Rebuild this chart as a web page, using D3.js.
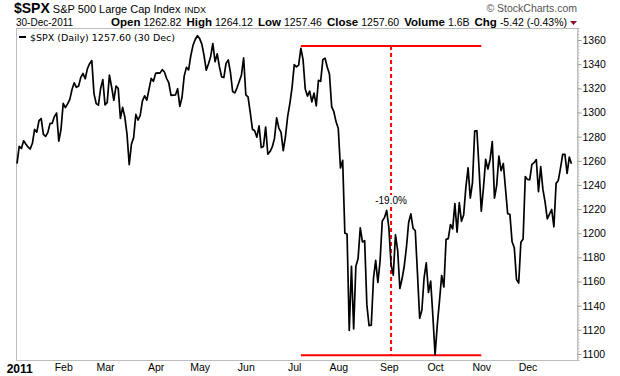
<!DOCTYPE html>
<html>
<head>
<meta charset="utf-8">
<script src="https://cdn.jsdelivr.net/npm/d3@7"></script>
<style>
  body { margin: 0; background: #fff; }
  svg { display: block; font-family: "Liberation Sans", Arial, sans-serif; }
</style>
</head>
<body>
<div id="chart"></div>
<script>
// daily closes, 31-Dec-2010 then every trading day of 2011
var closes = [
  1257.64,
  // Jan
  1271.87, 1270.20, 1276.56, 1273.85, 1271.50, 1269.75, 1274.48, 1285.96, 1283.76, 1293.24,
  1295.02, 1281.92, 1280.26, 1283.35, 1290.84, 1291.18, 1296.63, 1299.54, 1276.34, 1286.12,
  // Feb
  1307.59, 1304.03, 1307.10, 1310.87, 1319.05, 1324.57, 1320.88, 1321.87, 1329.15, 1332.32,
  1328.01, 1336.32, 1340.43, 1343.01, 1315.44, 1307.40, 1306.10, 1319.88, 1327.22,
  // Mar
  1306.33, 1308.44, 1330.97, 1321.15, 1310.13, 1321.82, 1320.02, 1295.11, 1304.28, 1296.39,
  1281.87, 1256.88, 1273.72, 1279.21, 1298.38, 1293.77, 1297.54, 1309.66, 1313.80, 1310.19,
  1319.44, 1328.26, 1325.83,
  // Apr
  1332.41, 1332.87, 1332.63, 1335.54, 1333.51, 1328.17, 1324.46, 1314.16, 1314.41, 1314.52,
  1319.68, 1305.14, 1312.62, 1330.36, 1337.38, 1335.25, 1347.24, 1355.66, 1360.48, 1363.61,
  // May
  1361.22, 1356.62, 1347.32, 1335.10, 1340.20, 1346.29, 1357.16, 1342.08, 1348.65, 1337.77,
  1329.47, 1328.98, 1340.68, 1343.60, 1333.27, 1317.37, 1316.28, 1320.47, 1325.69, 1331.10,
  1345.20,
  // Jun
  1314.55, 1312.94, 1300.16, 1286.17, 1284.94, 1279.56, 1289.00, 1270.98, 1271.83, 1287.87,
  1265.42, 1267.64, 1271.50, 1278.36, 1295.52, 1287.14, 1283.50, 1268.45, 1280.10, 1296.67,
  1307.41, 1320.64,
  // Jul
  1339.67, 1337.88, 1339.22, 1353.22, 1343.80, 1319.49, 1313.64, 1317.72, 1308.87, 1316.14,
  1305.44, 1326.73, 1325.84, 1343.80, 1345.02, 1337.43, 1331.94, 1304.89, 1300.67, 1292.28,
  // Aug
  1286.94, 1254.05, 1260.34, 1200.07, 1199.38, 1119.46, 1172.53, 1120.76, 1172.64, 1178.81,
  1204.49, 1192.76, 1193.89, 1140.65, 1123.53, 1123.82, 1162.35, 1177.60, 1159.27, 1176.80,
  1210.08, 1212.92, 1218.89,
  // Sep
  1204.42, 1173.97, 1165.24, 1198.62, 1185.90, 1154.23, 1162.27, 1172.87, 1188.68, 1209.11,
  1216.01, 1204.09, 1202.09, 1166.76, 1129.56, 1136.43, 1162.95, 1175.38, 1151.06, 1160.40,
  1131.42,
  // Oct
  1099.23, 1123.95, 1144.03, 1164.97, 1155.46, 1194.89, 1195.54, 1207.25, 1203.66, 1224.58,
  1200.86, 1225.38, 1209.88, 1215.39, 1238.25, 1254.19, 1229.05, 1242.00, 1284.59, 1285.09,
  1253.30,
  // Nov
  1218.28, 1237.90, 1261.15, 1253.23, 1261.12, 1275.92, 1229.10, 1239.69, 1263.85, 1251.78,
  1257.81, 1236.91, 1216.13, 1215.65, 1192.98, 1188.04, 1161.79, 1158.67, 1192.55, 1195.19,
  1246.96,
  // Dec
  1244.58, 1244.28, 1257.08, 1258.47, 1261.01, 1234.35, 1255.19, 1236.47, 1225.73, 1211.82,
  1215.75, 1219.66, 1205.35, 1241.30, 1243.72, 1254.00, 1265.33, 1265.43, 1249.64, 1263.02,
  1257.60
];

var monthLabels = ["2011", "Feb", "Mar", "Apr", "May", "Jun", "Jul", "Aug", "Sep", "Oct", "Nov", "Dec"];
var monthStarts = [1, 21, 40, 63, 83, 104, 126, 146, 169, 190, 211, 232];
var yTicks = [1100, 1120, 1140, 1160, 1180, 1200, 1220, 1240, 1260, 1280, 1300, 1320, 1340, 1360];

// drawdown annotation: from Jul 7 peak to Oct 3 low
var annStart = 129, annEnd = 211, annMid = 170;
var annHigh = 1355, annLow = 1099;
var annText = "-19.0%";

var quote = [["Open", "1262.82"], ["High", "1264.12"], ["Low", "1257.46"], ["Close", "1257.60"], ["Volume", "1.6B"], ["Chg", "-5.42 (-0.43%)"]];

var W = 620, H = 376;
var plotL = 16, plotR = 577, plotT = 28, plotB = 360;

var svg = d3.select("#chart").append("svg")
    .attr("width", W).attr("height", H);

var x = d3.scaleLinear().domain([0, closes.length - 1]).range([17, 571.5]);
var y = d3.scaleLinear().domain([1095, 1370]).range([plotB, plotT]);

// frame
svg.append("rect")
    .attr("x", plotL + 0.5).attr("y", plotT + 0.5)
    .attr("width", plotR - plotL).attr("height", plotB - plotT)
    .attr("fill", "none").attr("stroke", "#bdbdbd");

// right axis: minor ticks
svg.append("g")
    .attr("transform", `translate(${plotR + 0.5},0)`)
    .call(d3.axisRight(y).tickValues(d3.range(1097.5, 1370, 2.5)).tickSize(2).tickFormat(""))
    .call(g => g.select(".domain").attr("stroke", "#bdbdbd"))
    .call(g => g.selectAll(".tick line").attr("stroke", "#c8c8c8"));

// right axis: labels
svg.append("g")
    .attr("transform", `translate(${plotR + 0.5},0)`)
    .call(d3.axisRight(y).tickValues(yTicks).tickSize(4).tickPadding(1).tickFormat(d3.format("d")))
    .call(g => g.select(".domain").remove())
    .call(g => g.selectAll(".tick line").attr("stroke", "#999"))
    .selectAll("text")
    .attr("fill", "#000")
    .style("font-family", "Liberation Sans, Arial, sans-serif")
    .style("font-size", "10.5px");

// bottom axis month labels
svg.append("g")
    .attr("transform", `translate(0,${plotB})`)
    .call(d3.axisBottom(x).tickValues(monthStarts).tickSize(0).tickPadding(4)
        .tickFormat((d, i) => monthLabels[i]))
    .call(g => g.select(".domain").remove())
    .selectAll("text")
    .attr("fill", "#000")
    .style("font-family", "Liberation Sans, Arial, sans-serif")
    .style("font-weight", (d, i) => i === 0 ? "bold" : "normal")
    .style("font-size", (d, i) => i === 0 ? "12px" : "10.5px");

// red annotation
svg.append("line")
    .attr("x1", x(annStart)).attr("x2", x(annEnd))
    .attr("y1", y(annHigh)).attr("y2", y(annHigh))
    .attr("stroke", "#ff0000").attr("stroke-width", 2);
svg.append("line")
    .attr("x1", x(annStart)).attr("x2", x(annEnd))
    .attr("y1", y(annLow)).attr("y2", y(annLow))
    .attr("stroke", "#ff0000").attr("stroke-width", 2);
svg.append("line")
    .attr("x1", x(annMid)).attr("x2", x(annMid))
    .attr("y1", y(annHigh)).attr("y2", y(annLow))
    .attr("stroke", "#ff0000").attr("stroke-width", 2)
    .attr("stroke-dasharray", "4,3");

// label box over the dashed line
var annLabel = svg.append("g");
var annTxt = annLabel.append("text")
    .attr("x", x(annMid)).attr("y", 204)
    .attr("text-anchor", "middle")
    .style("font-size", "10px")
    .text(annText);
var bb = annTxt.node().getBBox();
annLabel.insert("rect", "text")
    .attr("x", bb.x - 1).attr("y", bb.y)
    .attr("width", bb.width + 2).attr("height", bb.height)
    .attr("fill", "#fff");

// price line
var line = d3.line()
    .x((d, i) => x(i))
    .y(d => y(d));

svg.append("path")
    .datum(closes)
    .attr("d", line)
    .attr("fill", "none")
    .attr("stroke", "#000")
    .attr("stroke-width", 1.7)
    .attr("stroke-linejoin", "round");

// header
var h1 = svg.append("text").attr("x", 14).attr("y", 13);
h1.append("tspan").style("font-weight", "bold").style("font-size", "14px").text("$SPX");
h1.append("tspan").attr("dx", 3).style("font-size", "11px").text("S&P 500 Large Cap Index");
h1.append("tspan").attr("dx", 4).style("font-size", "9px").text("INDX");

svg.append("text")
    .attr("x", 16).attr("y", 26)
    .style("font-size", "10px")
    .text("30-Dec-2011");

var h2 = svg.append("text").attr("x", 567).attr("y", 26).attr("text-anchor", "end");
quote.forEach(function(q, i) {
    h2.append("tspan").attr("dx", i ? 5 : 0).style("font-weight", "bold").style("font-size", "11.5px").text(q[0]);
    h2.append("tspan").attr("dx", 3).style("font-size", "10.5px").text(q[1]);
});
svg.append("path")
    .attr("d", "M570,21 L577,21 L573.5,25 Z")
    .attr("fill", "#8b1030");

svg.append("text")
    .attr("x", 577).attr("y", 12).attr("text-anchor", "end")
    .attr("fill", "#555")
    .style("font-size", "10.5px")
    .text("\u00a9 StockCharts.com");

// legend
svg.append("line")
    .attr("x1", 19).attr("x2", 26).attr("y1", 37).attr("y2", 37)
    .attr("stroke", "#000").attr("stroke-width", 2);
svg.append("text")
    .attr("x", 30).attr("y", 41)
    .style("font-family", "DejaVu Sans, Verdana, sans-serif")
    .style("font-size", "9.5px")
    .text("$SPX (Daily) 1257.60 (30 Dec)");
</script>
</body>
</html>
